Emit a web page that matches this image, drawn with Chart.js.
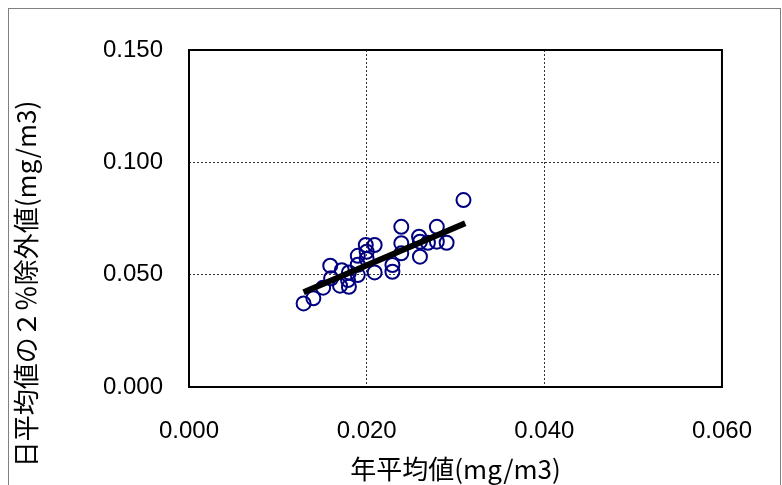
<!DOCTYPE html>
<html>
<head>
<meta charset="utf-8">
<script src="https://cdn.jsdelivr.net/npm/chart.js@4"></script>
<style>
  html, body { margin: 0; padding: 0; background: #fff; }
  #wrap { width: 782px; height: 485px; }
</style>
</head>
<body>
<div id="wrap"><canvas id="scatter" width="782" height="485"></canvas></div>
<script>
// annual mean (x) vs 2% excluded value of daily mean (y), mg/m3
var xVals = [0.0129, 0.0140, 0.0151, 0.0159, 0.0160, 0.0172, 0.0170, 0.0180, 0.0179, 0.0180,
             0.0190, 0.0190, 0.0190, 0.0199, 0.0200, 0.0209, 0.0209, 0.0200, 0.0229, 0.0229,
             0.0239, 0.0239, 0.0239, 0.0259, 0.0260, 0.0260, 0.0269, 0.0279, 0.0279, 0.0290,
             0.0309];
var yVals = [0.0372, 0.0395, 0.0442, 0.0540, 0.0484, 0.0520, 0.0451, 0.0446, 0.0476, 0.0510,
             0.0498, 0.0584, 0.0544, 0.0632, 0.0602, 0.0632, 0.0510, 0.0570, 0.0543, 0.0513,
             0.0713, 0.0640, 0.0595, 0.0669, 0.0647, 0.0580, 0.0642, 0.0713, 0.0647, 0.0642,
             0.0832];
// regression line end points
var trendX = [0.0129, 0.0311];
var trendY = [0.0422, 0.0729];

var xTicks = [0, 0.02, 0.04, 0.06];
var yTicks = [0, 0.05, 0.10, 0.15];
var xTitle = '年平均値(mg/m3)';
var yTitle = '日平均値の２％除外値(mg/m3)';

var pts = xVals.map(function(x, i){ return {x: x, y: yVals[i]}; });
var line = trendX.map(function(x, i){ return {x: x, y: trendY[i]}; });

// outer frame, plot box and the rotated y title
var framePlugin = {
  id: 'frame',
  beforeDraw: function(chart) {
    var c = chart.ctx;
    c.save();
    c.fillStyle = '#fff';
    c.fillRect(0, 0, chart.width, chart.height);
    c.strokeStyle = '#808080';
    c.lineWidth = 1;
    c.strokeRect(8.5, 8.5, 772, 490);
    c.restore();
  },
  afterDatasetsDraw: function(chart) {
    var a = chart.chartArea, c = chart.ctx;
    c.save();
    c.strokeStyle = '#000';
    c.lineWidth = 2;
    c.strokeRect(a.left, a.top, a.right - a.left, a.bottom - a.top);
    c.translate(26, 284);
    c.rotate(-Math.PI / 2);
    c.fillStyle = '#000';
    c.font = '26px "Noto Sans CJK JP"';
    c.textAlign = 'center';
    c.textBaseline = 'middle';
    c.fillText(yTitle, 0, 0);
    c.restore();
  }
};

new Chart(document.getElementById('scatter'), {
  type: 'scatter',
  data: {
    datasets: [{
      label: 'trend',
      type: 'line',
      data: line,
      borderColor: '#000',
      borderWidth: 6,
      pointRadius: 0,
      fill: false,
      order: 1
    }, {
      label: 'data',
      data: pts,
      pointRadius: 7,
      pointBorderWidth: 2,
      pointBackgroundColor: 'rgba(255,255,255,0)',
      pointBorderColor: '#000080',
      order: 2
    }]
  },
  options: {
    responsive: false,
    animation: false,
    layout: { padding: { left: 0, right: 59, top: 50, bottom: 0 } },
    plugins: { legend: { display: false }, tooltip: { enabled: false } },
    scales: {
      x: {
        type: 'linear',
        min: 0, max: 0.06,
        afterBuildTicks: function(s){ s.ticks = xTicks.map(function(v){ return {value: v}; }); },
        afterFit: function(s){ s.height = 98; },
        grid: { color: '#333', lineWidth: 1, drawTicks: false },
        border: { display: false, dash: [2, 2] },
        ticks: {
          padding: 30, color: '#000',
          font: { family: 'Arial, "Liberation Sans"', size: 24 },
          callback: function(v){ return v.toFixed(3); }
        },
        title: {
          display: true, text: xTitle, color: '#000',
          font: { family: '"Noto Sans CJK JP"', size: 26 },
          padding: { top: 0, bottom: 0 }
        }
      },
      y: {
        type: 'linear',
        min: 0, max: 0.15,
        afterBuildTicks: function(s){ s.ticks = yTicks.map(function(v){ return {value: v}; }); },
        afterFit: function(s){ s.width = 189; },
        grid: { color: '#333', lineWidth: 1, drawTicks: false },
        border: { display: false, dash: [2, 2] },
        ticks: {
          padding: 26, color: '#000',
          font: { family: 'Arial, "Liberation Sans"', size: 24 },
          callback: function(v){ return v.toFixed(3); }
        }
      }
    }
  },
  plugins: [framePlugin]
});
</script>
</body>
</html>
